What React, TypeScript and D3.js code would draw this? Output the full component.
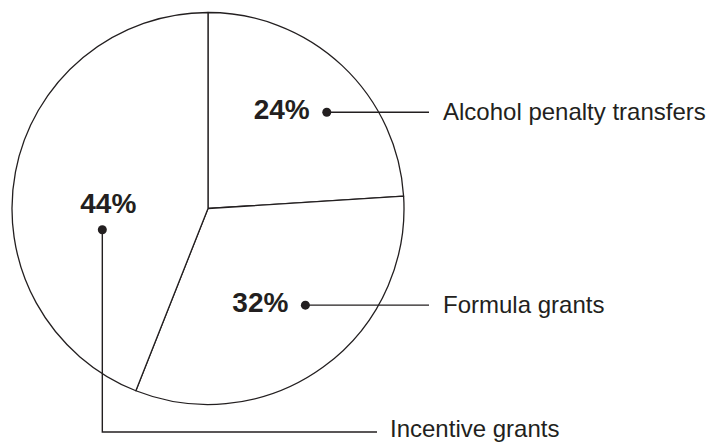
import * as d3 from 'd3'

// pie data
const categories = ['Alcohol penalty transfers', 'Formula grants', 'Incentive grants']
const shares = [24, 32, 44]
const pctLabels = ['24%', '32%', '44%']

// where each pointer dot sits inside its slice (fraction of slice angle, fraction of radius)
const dotAngleFrac = [0.59, 0.42, 0.36]
const dotRadiusFrac = [0.78, 0.7, 0.55]

const W = 707, H = 442
const cx = 208, cy = 208.5, R = 196
const ink = '#231f20'

export default function App() {
  const pie = d3.pie<number>().sort(null).value(d => d)
  const arcs = pie(shares)
  const arc = d3.arc<d3.PieArcDatum<number>>().innerRadius(0).outerRadius(R)

  const dots = arcs.map((a, i) => {
    const ang = a.startAngle + (a.endAngle - a.startAngle) * dotAngleFrac[i]
    const [x, y] = d3.pointRadial(ang, R * dotRadiusFrac[i])
    return { x: cx + x, y: cy + y }
  })

  const legendX = 443
  const lineEndX = 429
  const bottomY = 432
  const bottomEndX = 377

  return (
    <svg width={W} height={H} style={{ position: 'absolute', left: 0, top: 0, background: '#fff' }}
      fontFamily="'Liberation Sans', Arial, sans-serif">
      <g transform={`translate(${cx},${cy})`}>
        {arcs.map((a, i) => (
          <path key={i} d={arc(a) || ''} fill="#fff" stroke={ink} strokeWidth={1.3} strokeLinejoin="round" />
        ))}
      </g>

      {/* 24% and 32%: horizontal leaders to the right */}
      {[0, 1].map(i => (
        <g key={i}>
          <line x1={dots[i].x} y1={dots[i].y} x2={lineEndX} y2={dots[i].y} stroke={ink} strokeWidth={1.4} />
          <circle cx={dots[i].x} cy={dots[i].y} r={4.5} fill={ink} />
          <text x={dots[i].x - 17} y={dots[i].y + 6.5} textAnchor="end" fontSize={28} fontWeight="bold" fill={ink}>
            {pctLabels[i]}
          </text>
          <text x={legendX} y={dots[i].y + 8} fontSize={24} fill={ink}>
            {categories[i]}
          </text>
        </g>
      ))}

      {/* 44%: elbow leader down and right */}
      <path d={`M${dots[2].x},${dots[2].y}V${bottomY}H${bottomEndX}`} fill="none" stroke={ink} strokeWidth={1.4} />
      <circle cx={dots[2].x} cy={dots[2].y} r={4.5} fill={ink} />
      <text x={dots[2].x + 6} y={dots[2].y - 17} textAnchor="middle" fontSize={28} fontWeight="bold" fill={ink}>
        {pctLabels[2]}
      </text>
      <text x={390} y={436.5} fontSize={24} fill={ink}>
        {categories[2]}
      </text>
    </svg>
  )
}
